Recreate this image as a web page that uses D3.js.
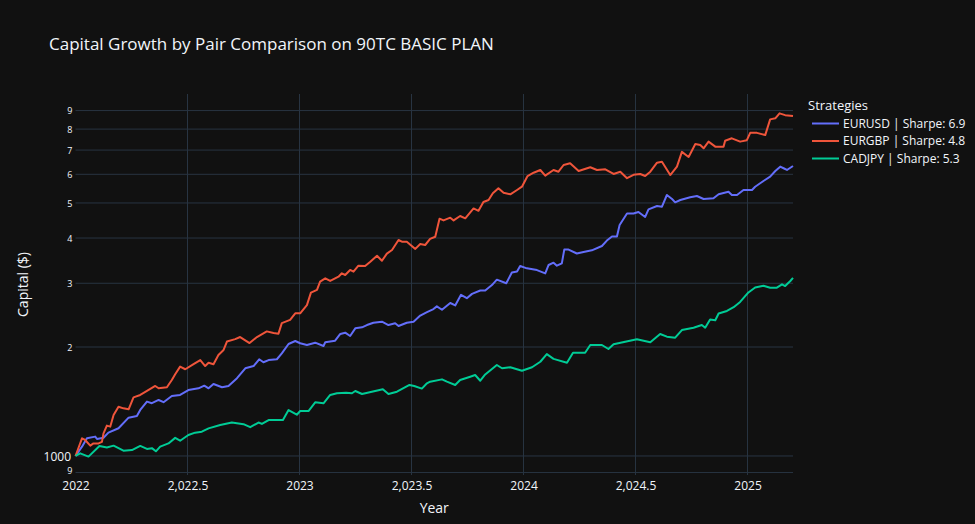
<!DOCTYPE html>
<html>
<head>
<meta charset="utf-8">
<script src="https://cdn.jsdelivr.net/npm/d3@7"></script>
<style>
  html, body { margin: 0; padding: 0; background: #111111; }
  svg { display: block; }
</style>
</head>
<body>
<script>
const chartTitle = "Capital Growth by Pair Comparison on 90TC BASIC PLAN";
const xTitle = "Year";
const yTitle = "Capital ($)";
const legendTitle = "Strategies";

const seriesNames = ["EURUSD | Sharpe: 6.9", "EURGBP | Sharpe: 4.8", "CADJPY | Sharpe: 5.3"];
const seriesColors = ["#636efa", "#EF553B", "#00cc96"];

const xTickValues = [2022, 2022.5, 2023, 2023.5, 2024, 2024.5, 2025];
const xTickLabels = ["2022", "2,022.5", "2023", "2,023.5", "2024", "2,024.5", "2025"];
const yTickValues = [900, 1000, 2000, 3000, 4000, 5000, 6000, 7000, 8000, 9000];
const yTickLabels = ["9", "1000", "2", "3", "4", "5", "6", "7", "8", "9"];
const xDomain = [2022, 2025.203];
const yDomain = [886, 10000];

const eurusdYears = [2022.000,2022.029,2022.051,2022.088,2022.096,2022.125,2022.147,2022.192,2022.237,2022.274,2022.289,2022.319,2022.341,2022.371,2022.393,2022.430,2022.467,2022.504,2022.549,2022.575,2022.594,2022.616,2022.654,2022.683,2022.721,2022.758,2022.795,2022.820,2022.839,2022.862,2022.899,2022.921,2022.951,2022.981,2023.003,2023.033,2023.070,2023.107,2023.115,2023.159,2023.182,2023.204,2023.226,2023.249,2023.279,2023.301,2023.330,2023.368,2023.397,2023.427,2023.442,2023.479,2023.509,2023.539,2023.569,2023.598,2023.613,2023.636,2023.673,2023.695,2023.721,2023.747,2023.770,2023.807,2023.829,2023.859,2023.881,2023.923,2023.948,2023.971,2023.985,2024.015,2024.060,2024.097,2024.112,2024.134,2024.149,2024.171,2024.182,2024.201,2024.238,2024.268,2024.305,2024.350,2024.372,2024.395,2024.417,2024.429,2024.462,2024.491,2024.513,2024.543,2024.558,2024.596,2024.618,2024.640,2024.663,2024.677,2024.700,2024.744,2024.774,2024.804,2024.848,2024.871,2024.915,2024.930,2024.953,2024.982,2025.020,2025.034,2025.071,2025.101,2025.124,2025.146,2025.161,2025.176,2025.203];
const eurusdValues = [1000,1061,1119,1131,1114,1123,1160,1193,1276,1290,1340,1413,1399,1428,1408,1464,1474,1521,1538,1564,1538,1581,1548,1561,1640,1747,1772,1850,1815,1840,1850,1921,2039,2078,2048,2026,2056,2013,2061,2082,2173,2191,2145,2252,2267,2300,2334,2349,2300,2325,2286,2334,2349,2443,2497,2546,2590,2535,2646,2606,2787,2728,2804,2865,2865,2966,3070,3000,3211,3232,3348,3299,3263,3195,3370,3420,3355,3406,3717,3717,3625,3662,3700,3803,3936,4038,4038,4346,4674,4674,4722,4574,4800,4904,4882,5260,5127,5020,5095,5183,5226,5127,5150,5283,5371,5260,5260,5430,5430,5545,5750,5910,6127,6300,6236,6167,6325];

const eurgbpYears = [2022.000,2022.029,2022.043,2022.066,2022.080,2022.103,2022.118,2022.125,2022.140,2022.155,2022.170,2022.192,2022.214,2022.237,2022.259,2022.289,2022.319,2022.356,2022.371,2022.408,2022.430,2022.445,2022.467,2022.490,2022.527,2022.557,2022.579,2022.594,2022.616,2022.638,2022.661,2022.676,2022.713,2022.735,2022.777,2022.810,2022.854,2022.884,2022.906,2022.921,2022.958,2022.981,2023.003,2023.033,2023.051,2023.078,2023.092,2023.115,2023.137,2023.174,2023.189,2023.204,2023.226,2023.241,2023.263,2023.293,2023.316,2023.346,2023.368,2023.390,2023.413,2023.442,2023.457,2023.479,2023.517,2023.539,2023.561,2023.583,2023.606,2023.625,2023.643,2023.673,2023.688,2023.717,2023.740,2023.777,2023.799,2023.821,2023.844,2023.863,2023.888,2023.911,2023.941,2023.971,2023.993,2024.018,2024.045,2024.075,2024.097,2024.134,2024.156,2024.179,2024.208,2024.246,2024.298,2024.328,2024.365,2024.402,2024.432,2024.462,2024.491,2024.521,2024.543,2024.566,2024.596,2024.618,2024.655,2024.685,2024.707,2024.737,2024.767,2024.789,2024.804,2024.826,2024.856,2024.893,2024.900,2024.930,2024.967,2024.997,2025.012,2025.042,2025.079,2025.101,2025.124,2025.143,2025.168,2025.203];
const eurgbpValues = [1000,1119,1107,1068,1083,1083,1094,1155,1213,1205,1298,1368,1354,1346,1452,1474,1512,1561,1538,1548,1621,1682,1765,1736,1793,1841,1772,1810,1793,1901,1963,2071,2103,2131,2051,2131,2209,2187,2177,2328,2377,2478,2478,2610,2826,2875,3030,3096,3044,3128,3196,3162,3265,3230,3355,3348,3441,3575,3463,3623,3708,3951,3909,3909,3733,3852,3827,3977,4034,4524,4475,4553,4475,4602,4535,4830,4757,5030,5095,5317,5490,5335,5282,5430,5545,5935,6060,6167,5947,6167,6100,6366,6435,6127,6275,6167,6195,6013,6100,5854,5980,6013,5935,6100,6461,6502,5973,6300,6920,6700,7277,7230,7080,7386,7155,7155,7430,7544,7386,7455,7810,7810,7700,8510,8565,8840,8740,8692];

const cadjpyYears = [2022.000,2022.021,2022.058,2022.107,2022.140,2022.170,2022.214,2022.252,2022.289,2022.319,2022.341,2022.359,2022.378,2022.415,2022.445,2022.467,2022.504,2022.534,2022.564,2022.594,2022.646,2022.698,2022.750,2022.780,2022.817,2022.832,2022.862,2022.926,2022.951,2022.988,2023.003,2023.040,2023.070,2023.107,2023.137,2023.167,2023.208,2023.234,2023.249,2023.279,2023.323,2023.372,2023.397,2023.435,2023.491,2023.512,2023.546,2023.569,2023.583,2023.636,2023.658,2023.695,2023.717,2023.762,2023.784,2023.807,2023.829,2023.881,2023.904,2023.941,2023.993,2024.038,2024.075,2024.104,2024.134,2024.194,2024.221,2024.275,2024.298,2024.350,2024.379,2024.402,2024.454,2024.506,2024.566,2024.610,2024.640,2024.677,2024.707,2024.759,2024.796,2024.811,2024.833,2024.856,2024.871,2024.908,2024.938,2024.967,2025.004,2025.034,2025.071,2025.101,2025.131,2025.154,2025.168,2025.191,2025.203];
const cadjpyValues = [1000,1017,996,1066,1055,1068,1034,1038,1066,1046,1051,1030,1061,1083,1122,1102,1143,1160,1167,1192,1218,1237,1224,1201,1237,1226,1257,1257,1339,1300,1331,1331,1407,1398,1474,1490,1496,1490,1512,1483,1505,1529,1483,1505,1571,1561,1535,1588,1604,1628,1604,1571,1621,1656,1674,1614,1680,1784,1747,1758,1720,1758,1821,1911,1855,1810,1929,1929,2026,2026,1975,2035,2069,2101,2062,2173,2136,2122,2228,2261,2300,2261,2383,2372,2476,2515,2576,2664,2830,2920,2954,2917,2917,2980,2948,3044,3104];

const W = 975, H = 524;
const M = { left: 75.5, right: 793, top: 94, bottom: 475 };
const FONT = '"Open Sans", verdana, arial, sans-serif';
const TXT = "#f2f5fa";
const GRID = "#283442";

const series = [
  { name: seriesNames[0], color: seriesColors[0], years: eurusdYears, values: eurusdValues },
  { name: seriesNames[1], color: seriesColors[1], years: eurgbpYears, values: eurgbpValues },
  { name: seriesNames[2], color: seriesColors[2], years: cadjpyYears, values: cadjpyValues }
];

const svg = d3.select("body").append("svg")
  .attr("width", W).attr("height", H)
  .style("background", "#111111")
  .style("font-family", FONT);

svg.append("rect").attr("width", W).attr("height", H).attr("fill", "#111111");

const x = d3.scaleLinear().domain(xDomain).range([M.left, M.right]);
const y = d3.scaleLog().domain(yDomain).range([M.bottom, M.top]);

// grid
const grid = svg.append("g");
grid.selectAll("line.v").data(xTickValues.filter(d => d > xDomain[0])).join("line")
  .attr("x1", d => x(d)).attr("x2", d => x(d))
  .attr("y1", M.top).attr("y2", M.bottom)
  .attr("stroke", GRID).attr("stroke-width", 1);
grid.selectAll("line.h").data(yTickValues).join("line")
  .attr("x1", M.left).attr("x2", M.right)
  .attr("y1", d => y(d)).attr("y2", d => y(d))
  .attr("stroke", GRID).attr("stroke-width", 1);

// x axis labels
const xAxis = d3.axisBottom(x).tickValues(xTickValues)
  .tickFormat((d, i) => xTickLabels[i]).tickSize(0).tickPadding(0);
const gx = svg.append("g").attr("transform", `translate(0,${M.bottom})`).call(xAxis);
gx.select(".domain").remove();
gx.selectAll("text").attr("fill", TXT).attr("font-size", 12).attr("font-family", FONT)
  .attr("dy", null).attr("y", 15);

// y axis labels
const yAxis = d3.axisLeft(y).tickValues(yTickValues)
  .tickFormat((d, i) => yTickLabels[i]).tickSize(0).tickPadding(0);
const gy = svg.append("g").attr("transform", `translate(${M.left},0)`).call(yAxis);
gy.select(".domain").remove();
gy.selectAll("text").attr("fill", TXT).attr("font-family", FONT)
  .attr("font-size", (d, i) => yTickLabels[i].length > 1 ? 12 : 9)
  .attr("x", (d, i) => yTickLabels[i].length > 1 ? -4.5 : -3)
  .attr("dy", (d, i) => i === 0 ? "0.15em" : "0.35em");

// lines
const line = d3.line().x(d => x(d[0])).y(d => y(d[1]));
svg.append("g").selectAll("path").data([series[0], series[1], series[2]]).join("path")
  .attr("d", s => line(s.years.map((yr, i) => [yr, s.values[i]])))
  .attr("fill", "none").attr("stroke", s => s.color)
  .attr("stroke-width", 2).attr("stroke-linejoin", "round");

// titles
svg.append("text").attr("x", 49).attr("y", 49.5).attr("fill", TXT)
  .attr("font-size", 17).text(chartTitle);
svg.append("text").attr("x", (M.left + M.right) / 2).attr("y", 512.5)
  .attr("text-anchor", "middle").attr("fill", TXT).attr("font-size", 14).text(xTitle);
svg.append("text").attr("transform", `translate(27.5,${(M.top + M.bottom) / 2}) rotate(-90)`)
  .attr("text-anchor", "middle").attr("fill", TXT).attr("font-size", 14).text(yTitle);

// legend
const lg = svg.append("g");
lg.append("text").attr("x", 808).attr("y", 110).attr("fill", TXT)
  .attr("font-size", 13).text(legendTitle);
const items = lg.selectAll("g.item").data(series).join("g")
  .attr("transform", (d, i) => `translate(0,${123.5 + i * 17.5})`);
items.append("line").attr("x1", 812).attr("x2", 839).attr("y1", 0).attr("y2", 0)
  .attr("stroke", d => d.color).attr("stroke-width", 2);
items.append("text").attr("x", 843).attr("y", 4.3).attr("fill", TXT)
  .attr("font-size", 12).text(d => d.name);
</script>
</body>
</html>
